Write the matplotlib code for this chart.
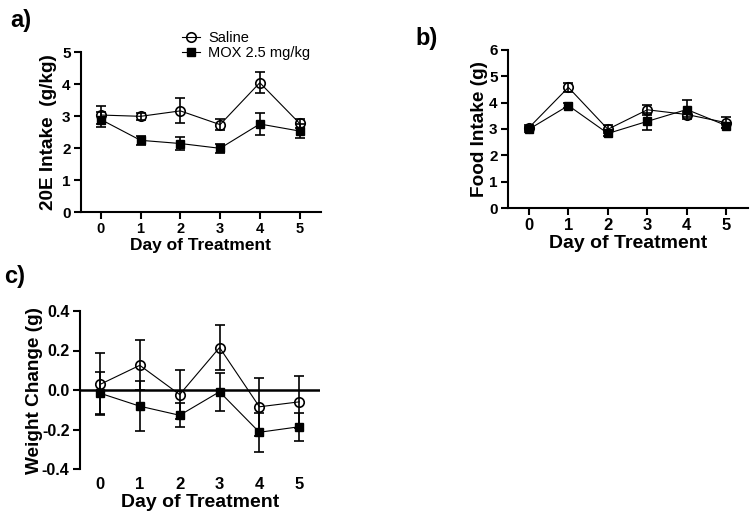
import matplotlib
matplotlib.use("Agg")
import matplotlib.pyplot as plt

# Arial look-alike, bold everywhere except the legend
plt.rcParams['font.family'] = ['Liberation Sans', 'DejaVu Sans']

days = [0, 1, 2, 3, 4, 5]
group_labels = ["Saline", "MOX 2.5 mg/kg"]

# a) 20E intake (g/kg), mean and error
intake_saline = [3.03, 2.99, 3.16, 2.73, 4.04, 2.77]
intake_saline_err = [0.29, 0.10, 0.39, 0.18, 0.32, 0.15]
intake_mox = [2.89, 2.24, 2.14, 1.99, 2.75, 2.53]
intake_mox_err = [0.24, 0.15, 0.21, 0.14, 0.33, 0.22]

# b) food intake (g)
food_saline = [3.05, 4.58, 2.99, 3.73, 3.55, 3.24]
food_saline_err = [0.10, 0.16, 0.15, 0.19, 0.10, 0.22]
food_mox = [2.99, 3.89, 2.83, 3.29, 3.74, 3.13]
food_mox_err = [0.10, 0.10, 0.10, 0.31, 0.37, 0.10]

# c) weight change (g)
weight_saline = [0.028, 0.125, -0.023, 0.215, -0.085, -0.060]
weight_saline_err = [0.157, 0.127, 0.123, 0.116, 0.146, 0.130]
weight_mox = [-0.016, -0.082, -0.128, -0.009, -0.214, -0.186]
weight_mox_err = [0.106, 0.126, 0.061, 0.096, 0.098, 0.071]

W, H = 754, 517
fig = plt.figure(figsize=(W / 100, H / 100), dpi=100)


def px_axes(left, top, right, bottom):
    # place an axes using pixel edges of the reference picture
    return fig.add_axes([left / W, 1 - bottom / H, (right - left) / W, (bottom - top) / H])


def draw_pair(ax, s, s_err, m, m_err):
    style = dict(color='black', lw=0.8, elinewidth=1.2, capsize=3.3, capthick=1.2)
    a = ax.errorbar(days, s, yerr=s_err, marker='o', ms=6.8, mfc='none', mec='black',
                    mew=1.2, zorder=3, **style)
    b = ax.errorbar(days, m, yerr=m_err, marker='s', ms=6, mfc='black', mec='black',
                    zorder=4, **style)
    return a[0], b[0]


def dress(ax, ylabel, xsize, xtick, ytick, ypad):
    for side in ['top', 'right']:
        ax.spines[side].set_visible(False)
    for side in ['left', 'bottom']:
        ax.spines[side].set_linewidth(1.5)
    ax.set_xticks(days)
    ax.tick_params(width=1.5, length=5, pad=2.5)
    ax.tick_params(axis='x', labelsize=xtick)
    ax.tick_params(axis='y', labelsize=ytick)
    for lab in ax.get_xticklabels() + ax.get_yticklabels():
        lab.set_fontweight('bold')
    ax.set_xlabel("Day of Treatment", fontsize=xsize, fontweight='bold', labelpad=1)
    ax.set_ylabel(ylabel, fontsize=13.7, fontweight='bold', labelpad=ypad)


# panel a
ax_a = px_axes(81, 52, 321, 212)
h1, h2 = draw_pair(ax_a, intake_saline, intake_saline_err, intake_mox, intake_mox_err)
ax_a.set_xlim(-0.5, 5.54)
ax_a.set_ylim(0, 5)
ax_a.set_yticks([0, 1, 2, 3, 4, 5])
dress(ax_a, "20E Intake  (g/kg)", 12.5, 10.5, 11, 4)

# panel b
ax_b = px_axes(508, 50, 748, 208)
draw_pair(ax_b, food_saline, food_saline_err, food_mox, food_mox_err)
ax_b.set_xlim(-0.53, 5.55)
ax_b.set_ylim(0, 6)
ax_b.set_yticks([0, 1, 2, 3, 4, 5, 6])
dress(ax_b, "Food Intake (g)", 14, 12, 11, 1)

# panel c - x axis is the zero line, tick labels sit at the bottom
ax_c = px_axes(80, 311, 320, 469)
draw_pair(ax_c, weight_saline, weight_saline_err, weight_mox, weight_mox_err)
ax_c.axhline(0, color='black', lw=1.8, zorder=2)
ax_c.set_xlim(-0.5, 5.52)
ax_c.set_ylim(-0.4, 0.4)
ax_c.set_yticks([-0.4, -0.2, 0.0, 0.2, 0.4])
ax_c.set_yticklabels([f"{v:.1f}" for v in [-0.4, -0.2, 0.0, 0.2, 0.4]])
dress(ax_c, "Weight Change (g)", 14, 12, 11.5, -1)
ax_c.spines['bottom'].set_visible(False)
ax_c.tick_params(axis='x', length=0, pad=6)

# legend sits above panel a
fig.legend([h1, h2], group_labels, loc='upper left', bbox_to_anchor=(182 / W, 1 - 31 / H),
           frameon=False, fontsize=10.5, borderpad=0, borderaxespad=0, numpoints=1,
           handlelength=1.2, handletextpad=0.6, labelspacing=0.05)

# panel letters
fig.text(10 / W, 1 - 20 / H, "a)", fontsize=17, fontweight='bold', va='center')
fig.text(415 / W, 1 - 39 / H, "b)", fontsize=17, fontweight='bold', va='center')
fig.text(4 / W, 1 - 277 / H, "c)", fontsize=17, fontweight='bold', va='center')

fig.savefig("out.png", dpi=100)
